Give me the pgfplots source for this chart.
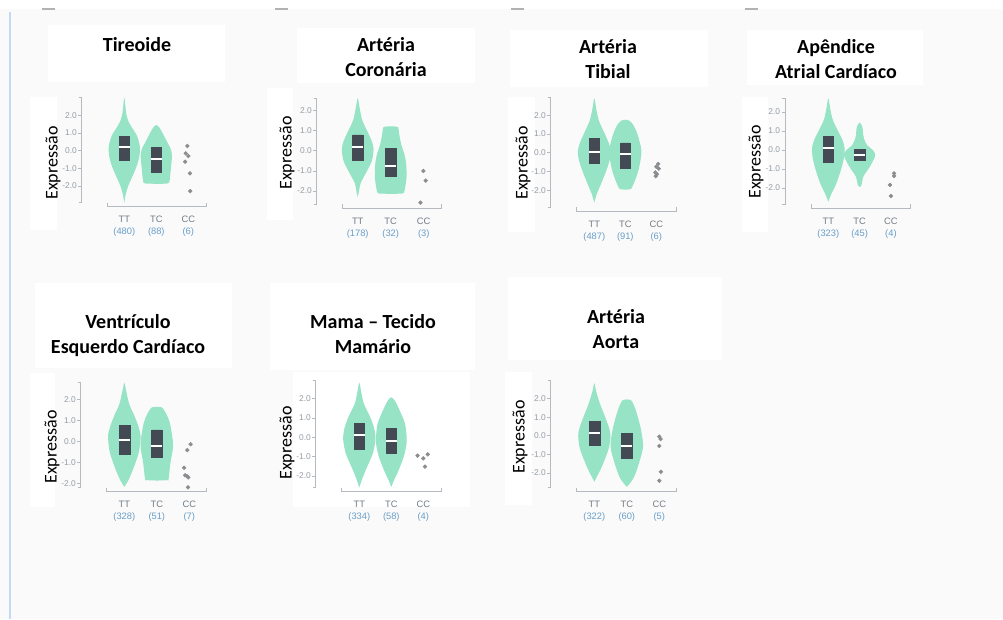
\documentclass[border=0pt]{standalone}
\usepackage{fontspec}
\setmainfont{Carlito}
\newfontfamily\tickfont{Liberation Sans}
\usepackage{pgfplots}
\usepackage{pgfplotstable}
\pgfplotsset{compat=1.18}
\usepgfplotslibrary{statistics}

\definecolor{bgc}{RGB}{250,250,250}
\definecolor{vc}{RGB}{150,227,197}
\definecolor{boxc}{RGB}{68,74,84}
\definecolor{ptc}{RGB}{140,140,145}
\definecolor{axc}{RGB}{180,186,192}
\definecolor{ytc}{RGB}{150,158,166}
\definecolor{ttc}{RGB}{115,125,135}
\definecolor{cntc}{RGB}{105,158,200}
\definecolor{blc}{RGB}{196,218,240}

% violin outlines: y, offset from the violin centre (right side up, left side down)
\pgfplotstableread{
y w
-2.95 0
-2.5 0.04
-2.0 0.12
-1.5 0.24
-1.0 0.36
-0.5 0.45
0.0 0.49
0.4 0.47
0.9 0.38
1.3 0.24
1.7 0.12
2.1 0.06
2.6 0.03
3.0 0
2.6 -0.03
2.1 -0.06
1.7 -0.12
1.3 -0.24
0.9 -0.38
0.4 -0.47
0.0 -0.49
-0.5 -0.45
-1.0 -0.36
-1.5 -0.24
-2.0 -0.12
-2.5 -0.04
}\tirTT
\pgfplotstableread{
y w
-1.87 0
-1.86 0.33
-1.8 0.40
-1.65 0.42
-0.9 0.46
-0.3 0.49
0.1 0.45
0.42 0.36
0.98 0.20
1.3 0.10
1.45 0
1.3 -0.10
0.98 -0.20
0.42 -0.36
0.1 -0.45
-0.3 -0.49
-0.9 -0.46
-1.65 -0.42
-1.8 -0.40
-1.86 -0.33
}\tirTC
\pgfplotstableread{
y w
-2.3 0
-2.0 0.04
-1.6 0.09
-1.1 0.25
-0.5 0.43
0.1 0.48
0.5 0.42
0.9 0.31
1.5 0.14
2.1 0.06
2.6 0
2.1 -0.06
1.5 -0.14
0.9 -0.31
0.5 -0.42
0.1 -0.48
-0.5 -0.43
-1.1 -0.25
-1.6 -0.09
-2.0 -0.04
}\corTT
\pgfplotstableread{
y w
-2.14 0
-2.12 0.34
-2.08 0.40
-1.8 0.44
-1.3 0.48
-0.7 0.47
-0.2 0.42
0.3 0.32
0.8 0.26
1.15 0.23
1.19 0.18
1.21 0
1.19 -0.18
1.15 -0.23
0.8 -0.26
0.3 -0.32
-0.2 -0.42
-0.7 -0.47
-1.3 -0.48
-1.8 -0.44
-2.08 -0.40
-2.12 -0.34
}\corTC
\pgfplotstableread{
y w
-2.66 0
-2.2 0.08
-1.65 0.22
-0.9 0.40
-0.3 0.51
0.1 0.53
0.5 0.47
1.0 0.34
1.7 0.15
2.35 0.06
2.9 0
2.35 -0.06
1.7 -0.15
1.0 -0.34
0.5 -0.47
0.1 -0.53
-0.3 -0.51
-0.9 -0.40
-1.65 -0.22
-2.2 -0.08
}\tibTT
\pgfplotstableread{
y w
-1.97 0
-1.95 0.16
-1.9 0.2
-1.45 0.32
-0.9 0.43
-0.3 0.50
0.15 0.52
0.6 0.46
1.05 0.38
1.5 0.25
1.72 0.12
1.76 0
1.72 -0.12
1.5 -0.25
1.05 -0.38
0.6 -0.46
0.15 -0.52
-0.3 -0.50
-0.9 -0.43
-1.45 -0.32
-1.9 -0.2
-1.95 -0.16
}\tibTC
\pgfplotstableread{
y w
-2.72 0
-2.3 0.1
-1.75 0.26
-0.9 0.43
-0.3 0.51
0.1 0.52
0.5 0.46
0.9 0.34
1.6 0.14
2.2 0.06
2.72 0
2.2 -0.06
1.6 -0.14
0.9 -0.34
0.5 -0.46
0.1 -0.52
-0.3 -0.51
-0.9 -0.43
-1.75 -0.26
-2.3 -0.1
}\apeTT
\pgfplotstableread{
y w
-1.95 0
-1.85 0.06
-1.4 0.12
-0.9 0.32
-0.5 0.45
-0.25 0.5
0.0 0.42
0.25 0.24
0.6 0.14
0.9 0.11
1.2 0.09
1.45 0
1.2 -0.09
0.9 -0.11
0.6 -0.14
0.25 -0.24
0.0 -0.42
-0.25 -0.5
-0.5 -0.45
-0.9 -0.32
-1.4 -0.12
-1.85 -0.06
}\apeTC
\pgfplotstableread{
y w
-2.15 0
-1.85 0.12
-1.35 0.26
-0.55 0.44
0.0 0.49
0.3 0.5
0.7 0.44
1.2 0.32
1.8 0.15
2.4 0.06
2.8 0
2.4 -0.06
1.8 -0.15
1.2 -0.32
0.7 -0.44
0.3 -0.5
0.0 -0.49
-0.55 -0.44
-1.35 -0.26
-1.85 -0.12
}\venTT
\pgfplotstableread{
y w
-1.85 0
-1.83 0.32
-1.8 0.36
-1.0 0.42
-0.25 0.50
0.3 0.47
0.9 0.4
1.3 0.3
1.6 0.18
1.64 0.14
1.66 0
1.64 -0.14
1.6 -0.18
1.3 -0.3
0.9 -0.4
0.3 -0.47
-0.25 -0.50
-1.0 -0.42
-1.8 -0.36
-1.83 -0.32
}\venTC
\pgfplotstableread{
y w
-2.6 0
-2.2 0.08
-1.7 0.2
-0.85 0.42
-0.2 0.5
0.1 0.5
0.5 0.46
1.05 0.34
1.75 0.14
2.35 0.06
2.83 0
2.35 -0.06
1.75 -0.14
1.05 -0.34
0.5 -0.46
0.1 -0.5
-0.2 -0.5
-0.85 -0.42
-1.7 -0.2
-2.2 -0.08
}\mamTT
\pgfplotstableread{
y w
-2.57 0
-2.2 0.09
-1.7 0.23
-1.0 0.39
-0.3 0.48
0.2 0.47
0.75 0.42
1.4 0.26
1.9 0.11
2.07 0
1.9 -0.11
1.4 -0.26
0.75 -0.42
0.2 -0.47
-0.3 -0.48
-1.0 -0.39
-1.7 -0.23
-2.2 -0.09
}\mamTC
\pgfplotstableread{
y w
-2.47 0
-2.2 0.08
-1.67 0.23
-0.77 0.43
-0.2 0.49
0.15 0.49
0.5 0.44
1.02 0.33
1.74 0.17
2.37 0.06
2.82 0
2.37 -0.06
1.74 -0.17
1.02 -0.33
0.5 -0.44
0.15 -0.49
-0.2 -0.49
-0.77 -0.43
-1.67 -0.23
-2.2 -0.08
}\aorTT
\pgfplotstableread{
y w
-2.75 0
-2.55 0.1
-2.2 0.23
-1.5 0.37
-0.6 0.5
0.3 0.44
1.0 0.34
1.5 0.25
1.85 0.16
1.92 0.12
1.95 0
1.92 -0.12
1.85 -0.16
1.5 -0.25
1.0 -0.34
0.3 -0.44
-0.6 -0.5
-1.5 -0.37
-2.2 -0.23
-2.55 -0.1
}\aorTC

\pgfplotsset{
  panelstyle/.style={
    scale only axis, clip=false,
    axis x line*=bottom, axis y line*=left,
    axis line style={draw=none},
    xtick={0,1,2}, ytick={-2,-1,0,1,2},
    yticklabels={-2.0,-1.0,0.0,1.0,2.0},
    x tick style={draw=none},
    y tick style={draw=axc, line width=0.5pt},
    tick align=outside, major tick length=2.5pt,
    xticklabel style={align=center, font=\tickfont\fontsize{7}{9}\selectfont,
      text=ttc, inner sep=0pt, anchor=north, yshift=-4.5pt},
    yticklabel style={font=\tickfont\fontsize{6.3}{7}\selectfont, text=ytc, inner sep=1pt},
    xticklabels={{TT\\\textcolor{cntc}{(\cA)}},{TC\\\textcolor{cntc}{(\cB)}},{CC\\\textcolor{cntc}{(\cC)}}},
  },
  pts/.style={only marks, mark=*, mark size=1.4pt, color=ptc},
}

\newcommand{\violin}[2]{%
  \addplot[fill=vc, draw=none, smooth] table[x expr=#1+\thisrow{w}, y=y]{#2} -- cycle;
}
\newcommand{\vbx}[4]{%
  \addplot[boxplot/draw direction=y,
    boxplot prepared={draw position=#1, lower quartile=#2, median=#3,
      upper quartile=#4, lower whisker=#2, upper whisker=#4, box extend=0.34},
    fill=boxc, draw=boxc, boxplot/every median/.style={draw=white, line width=1.4pt}]
    coordinates {};
}

\newcommand{\panel}[9]{%
  \pgfmathsetmacro\ymaxv{(#5-#2)/#6}%
  \pgfmathsetmacro\yminv{-(#4-#5)/#6}%
  \pgfmathsetmacro\ybotv{-(#4-4-#5)/#6}%
  \pgfmathsetmacro\tky{-(#4-4-#5)/#6}%
  \pgfmathsetmacro\xminv{(#1-#7)/#8}%
  \pgfmathsetmacro\tkx{(#1-3-#7)/#8}%
  \pgfmathsetmacro\xmaxv{(#3-#7)/#8}%
  \pgfmathsetmacro\xstartv{(#1+26-#7)/#8}%
  \pgfmathsetmacro\pW{(#3-#1)*0.75}%
  \pgfmathsetmacro\pH{(#4-#2)*0.75}%
  \pgfmathsetmacro\pAX{#1*0.75}%
  \pgfmathsetmacro\pAY{-#4*0.75}%
  \begin{axis}[panelstyle, at={(\pAX pt,\pAY pt)}, anchor=south west,
      width=\pW pt, height=\pH pt,
      xmin=\xminv, xmax=\xmaxv, ymin=\yminv, ymax=\ymaxv]
    #9
    \draw[axc, line width=0.6pt] (axis cs:\tkx,\ymaxv) -- (axis cs:\xminv,\ymaxv)
      -- (axis cs:\xminv,\ybotv) -- (axis cs:\tkx,\ybotv);
    \draw[axc, line width=0.6pt] (axis cs:\xstartv,\tky) -- (axis cs:\xstartv,\yminv)
      -- (axis cs:\xmaxv,\yminv) -- (axis cs:\xmaxv,\tky);
  \end{axis}%
}

\begin{document}
\begin{tikzpicture}
\begin{scope}[x=0.75pt, y=-0.75pt]
\fill[bgc] (0,0) rectangle (1003,619);
\fill[white] (0,0) rectangle (1003,9);
\draw[blc, line width=1.4pt] (10,12) -- (10,619);
\foreach \a in {42,275,511,745} \draw[gray!60, line width=1pt] (\a,9) -- (\a+13,9);

% white boxes behind titles and axis labels
\fill[white] (48,25) rectangle (225,82);
\fill[white] (297,28) rectangle (475,83);
\fill[white] (510,30) rectangle (708,87);
\fill[white] (747,30) rectangle (923,85);
\fill[white] (35,283) rectangle (232,368);
\fill[white] (270,283) rectangle (475,370);
\fill[white] (508,277) rectangle (722,360);
\fill[white] (30,97) rectangle (57,230);
\fill[white] (267,88) rectangle (293,220);
\fill[white] (508,97) rectangle (535,232);
\fill[white] (742,97) rectangle (768,232);
\fill[white] (30,373) rectangle (55,507);
\fill[white] (293,372) rectangle (470,507);
\fill[white] (505,372) rectangle (532,505);
\end{scope}

% Panel 1
\def\cA{480}\def\cB{88}\def\cC{6}
\panel{81.7}{97.3}{206}{206.7}{150.7}{17.7}{124.3}{32}{
  \violin{0}{\tirTT}
  \violin{1}{\tirTC}
  \vbx{0}{-0.53}{0.19}{0.79}
  \vbx{1}{-1.19}{-0.49}{0.17}
  \addplot[pts] coordinates {(1.97,0.27) (1.92,-0.15) (2.0,-0.3) (1.9,-0.62) (2.05,-1.28) (2.06,-2.28)};
}
% Panel 2
\def\cA{178}\def\cB{32}\def\cC{3}
\panel{316.7}{98.3}{441}{208.3}{150.7}{20.2}{357.7}{33}{
  \violin{0}{\corTT}
  \violin{1}{\corTC}
  \vbx{0}{-0.46}{0.2}{0.78}
  \vbx{1}{-1.29}{-0.75}{0.12}
  \addplot[pts] coordinates {(1.99,-1.0) (2.06,-1.48) (1.9,-2.57)};
}
% Panel 3
\def\cA{487}\def\cB{91}\def\cC{6}
\panel{550.7}{97.3}{676}{211}{152.7}{18.75}{594.3}{31}{
  \violin{0}{\tibTT}
  \violin{1}{\tibTC}
  \vbx{0}{-0.56}{0.05}{0.77}
  \vbx{1}{-0.83}{-0.09}{0.53}
  \addplot[pts] coordinates {(2.06,-0.6) (2.0,-0.75) (2.08,-0.85) (1.97,-1.05) (2.02,-1.15) (1.98,-1.25)};
}
% Panel 4
\def\cA{323}\def\cB{45}\def\cC{4}
\panel{785}{98.3}{910}{208.3}{150}{19}{828.3}{31.3}{
  \violin{0}{\apeTT}
  \violin{1}{\apeTC}
  \vbx{0}{-0.62}{0.12}{0.7}
  \vbx{1}{-0.56}{-0.26}{0.04}
  \addplot[pts] coordinates {(2.1,-1.23) (2.1,-1.37) (1.97,-1.84) (2.0,-2.42)};
}
% Panel 5
\def\cA{328}\def\cB{51}\def\cC{7}
\panel{80.7}{382.7}{206}{491.7}{441.7}{21}{124.3}{32.5}{
  \violin{0}{\venTT}
  \violin{1}{\venTC}
  \vbx{0}{-0.59}{0.08}{0.76}
  \vbx{1}{-0.74}{-0.2}{0.56}
  \addplot[pts] coordinates {(2.04,-0.12) (1.94,-0.4) (1.84,-1.24) (1.87,-1.6) (1.93,-1.64) (1.97,-1.7) (1.96,-2.17)};
}
% Panel 6
\def\cA{334}\def\cB{58}\def\cC{4}
\panel{315.7}{380.7}{441}{491.7}{437.3}{19.3}{359.3}{32}{
  \violin{0}{\mamTT}
  \violin{1}{\mamTC}
  \vbx{0}{-0.62}{0.1}{0.73}
  \vbx{1}{-0.83}{-0.19}{0.47}
  \addplot[pts] coordinates {(1.82,-0.95) (2.0,-1.09) (2.14,-0.88) (2.05,-1.52)};
}
% Panel 7
\def\cA{322}\def\cB{60}\def\cC{5}
\panel{550.7}{380.7}{676}{491.7}{435.7}{18.6}{594.3}{32.5}{
  \violin{0}{\aorTT}
  \violin{1}{\aorTC}
  \vbx{0}{-0.5}{0.16}{0.75}
  \vbx{1}{-1.22}{-0.55}{0.13}
  \addplot[pts] coordinates {(2.0,-0.05) (2.04,-0.18) (2.0,-0.55) (2.05,-1.94) (2.0,-2.42)};
}

\begin{scope}[x=0.75pt, y=-0.75pt]
\tikzset{ttl/.style={font=\bfseries\fontsize{15}{18.75}\selectfont, align=center, inner sep=0pt},
  ylab/.style={font=\fontsize{13.5}{16}\selectfont, rotate=90, inner sep=0pt}}
\node[ttl] at (137,45) {Tireoide};
\node[ttl] at (386,57) {Artéria\\Coronária};
\node[ttl] at (608,59) {Artéria\\Tibial};
\node[ttl] at (836,59) {Apêndice\\Atrial Cardíaco};
\node[ttl] at (128,336) {Ventrículo\\Esquerdo Cardíaco};
\node[ttl] at (373,334) {Mama – Tecido\\Mamário};
\node[ttl] at (616,329) {Artéria\\Aorta};

\node[ylab] at (53,163) {Expressão};
\node[ylab] at (287,153) {Expressão};
\node[ylab] at (523,163) {Expressão};
\node[ylab] at (756,162) {Expressão};
\node[ylab] at (52,447) {Expressão};
\node[ylab] at (287,443) {Expressão};
\node[ylab] at (520,437) {Expressão};
\pgfresetboundingbox
\useasboundingbox (0,0) rectangle (1003,619);
\end{scope}
\end{tikzpicture}
\end{document}
